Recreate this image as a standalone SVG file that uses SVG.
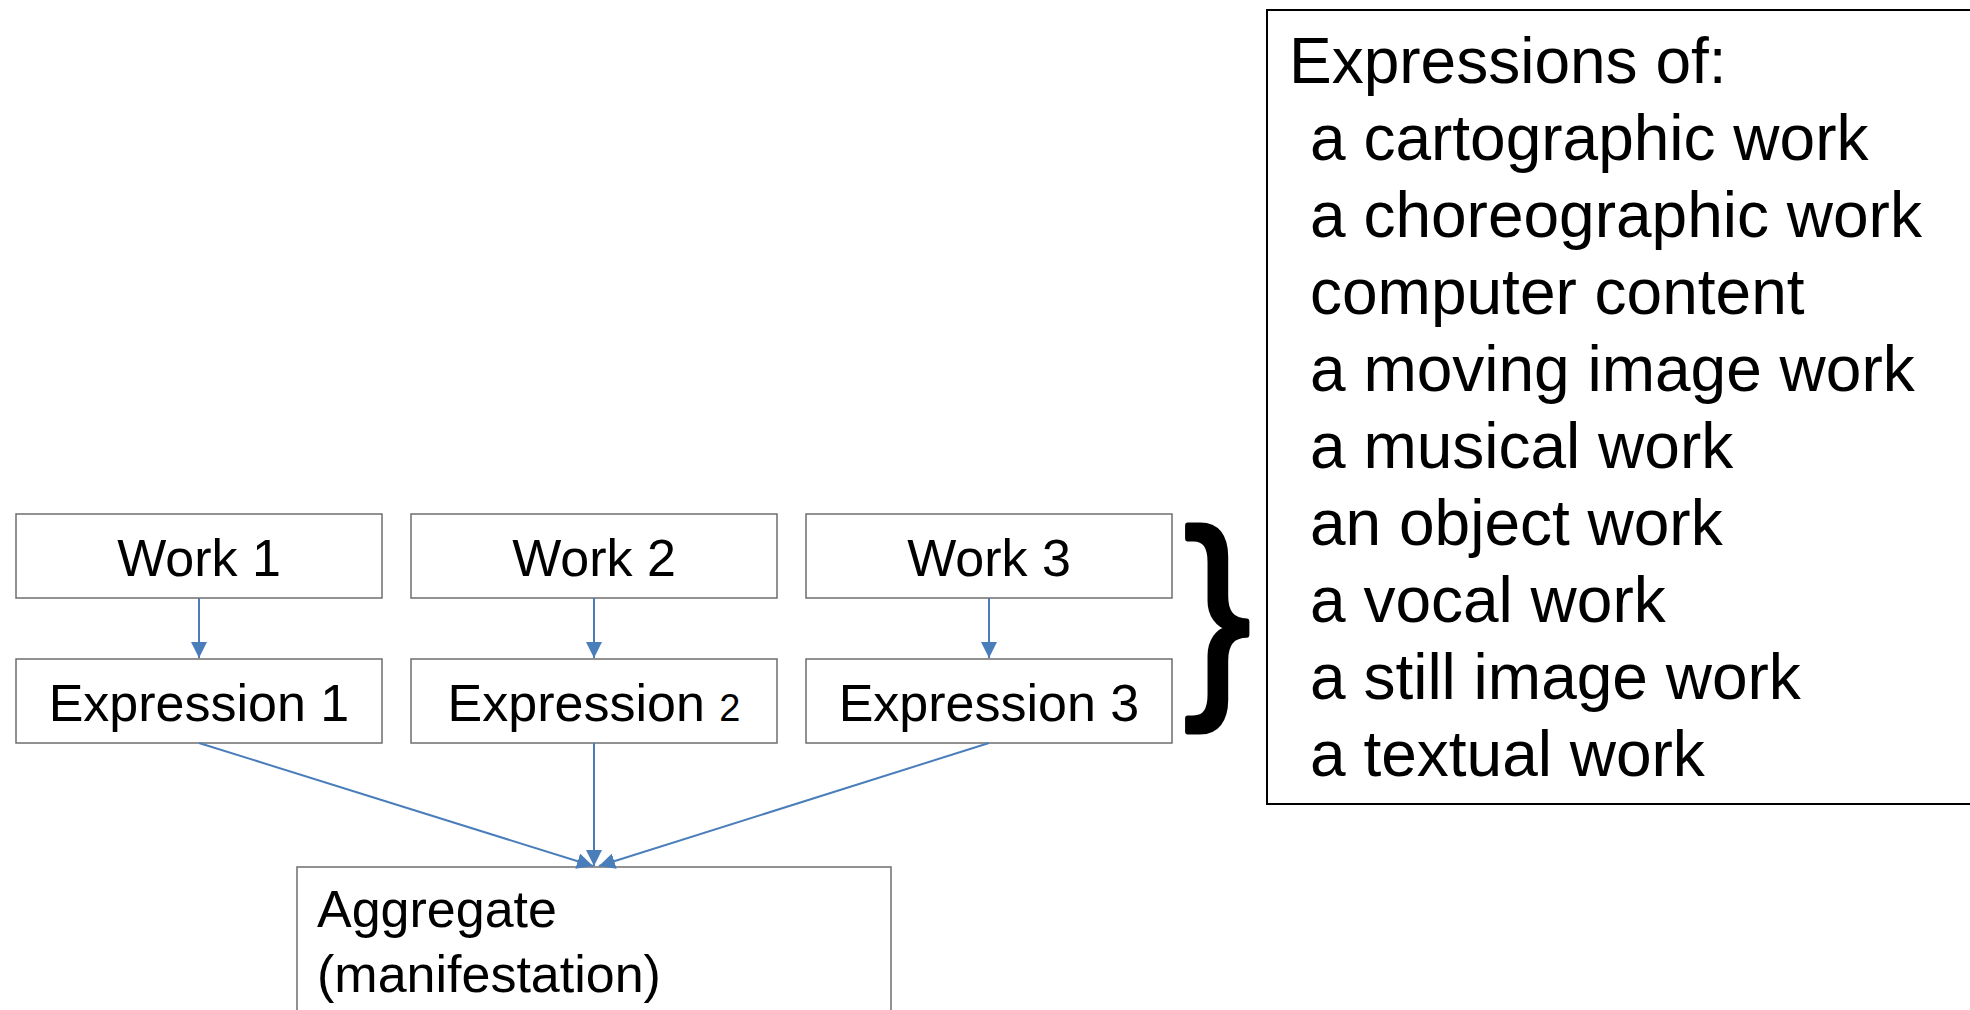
<svg xmlns="http://www.w3.org/2000/svg" width="1970" height="1010" viewBox="0 0 1970 1010">
<style>
.box{fill:#fff;stroke:#6e6e6e;stroke-width:1.5}
.lbl{font-family:"Liberation Sans",Arial,sans-serif;font-size:52px;fill:#000}
.c{text-anchor:middle}
.list{font-family:"Liberation Sans",Arial,sans-serif;font-size:64px;fill:#000}
.conn{stroke:#4a7ebb;stroke-width:2;fill:none;marker-end:url(#ah)}
</style>
<defs>
<marker id="ah" viewBox="0 0 10 10" refX="10" refY="5" markerUnits="userSpaceOnUse" markerWidth="16" markerHeight="16" orient="auto">
<path d="M0,0 L10,5 L0,10 z" fill="#4a7ebb"/>
</marker>
</defs>
<rect width="1970" height="1010" fill="#fff"/>
<g id="work1"><rect class="box" x="16" y="514" width="366" height="84"/><text class="lbl c" x="199" y="576">Work 1</text></g>
<g id="work2"><rect class="box" x="411" y="514" width="366" height="84"/><text class="lbl c" x="594" y="576">Work 2</text></g>
<g id="work3"><rect class="box" x="806" y="514" width="366" height="84"/><text class="lbl c" x="989" y="576">Work 3</text></g>
<g id="expr1"><rect class="box" x="16" y="659" width="366" height="84"/><text class="lbl c" x="199" y="721">Expression 1</text></g>
<g id="expr2"><rect class="box" x="411" y="659" width="366" height="84"/><text class="lbl c" x="594" y="721">Expression <tspan font-size="38">2</tspan></text></g>
<g id="expr3"><rect class="box" x="806" y="659" width="366" height="84"/><text class="lbl c" x="989" y="721">Expression 3</text></g>
<g id="aggregate"><rect class="box" x="297" y="867" width="594" height="200"/><text class="lbl" x="317" y="927">Aggregate</text><text class="lbl" x="317" y="992">(manifestation)</text></g>
<g id="brace"><text transform="translate(1184,686) scale(0.9,1)" x="0" y="0" font-family="'Liberation Sans',Arial,sans-serif" font-size="222" fill="#000" stroke="#000" stroke-width="5" stroke-linejoin="round">}</text></g>
<g id="list">
<rect x="1267" y="10" width="800" height="794" fill="#fff" stroke="#000" stroke-width="2"/>
<text class="list" x="1289" y="83">Expressions of:</text>
<text class="list" x="1310" y="160">a cartographic work</text>
<text class="list" x="1310" y="237">a choreographic work</text>
<text class="list" x="1310" y="314">computer content</text>
<text class="list" x="1310" y="391">a moving image work</text>
<text class="list" x="1310" y="468">a musical work</text>
<text class="list" x="1310" y="545">an object work</text>
<text class="list" x="1310" y="622">a vocal work</text>
<text class="list" x="1310" y="699">a still image work</text>
<text class="list" x="1310" y="776">a textual work</text>
</g>
<g id="connectors">
<line class="conn" x1="199" y1="598" x2="199" y2="658"/>
<line class="conn" x1="594" y1="598" x2="594" y2="658"/>
<line class="conn" x1="989" y1="598" x2="989" y2="658"/>
<line class="conn" x1="199" y1="743" x2="593" y2="866"/>
<line class="conn" x1="594" y1="743" x2="594" y2="866"/>
<line class="conn" x1="989" y1="743" x2="599" y2="866"/>
</g>
</svg>
